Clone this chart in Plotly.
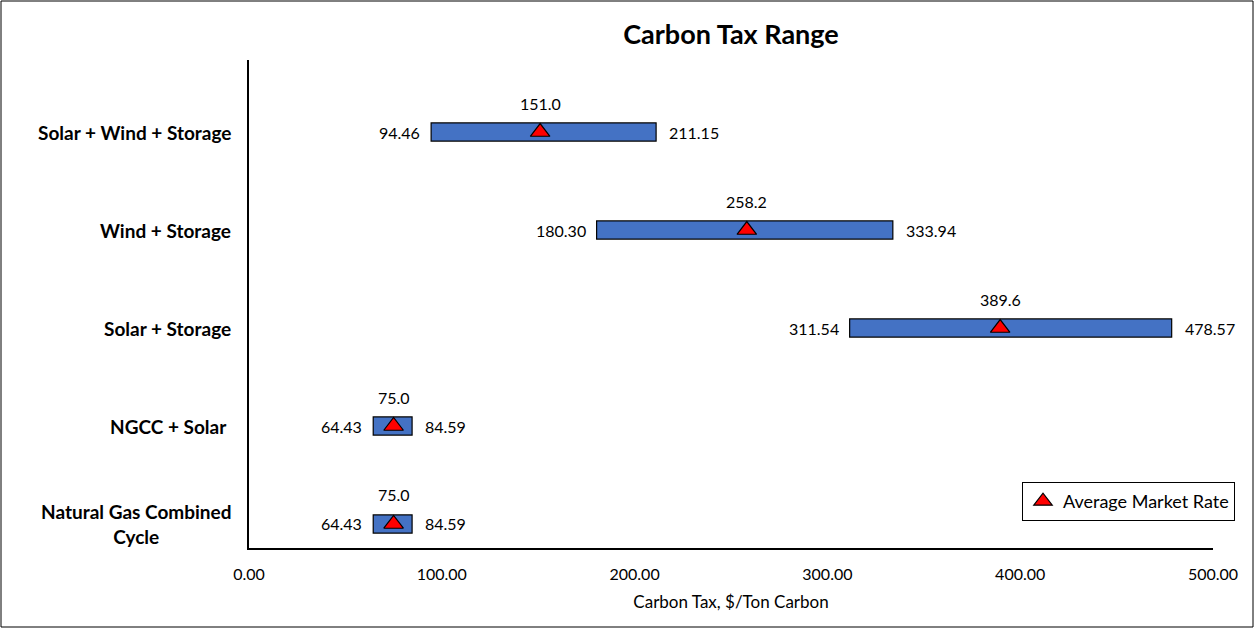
import plotly.graph_objects as go

categories = ["Natural Gas Combined<br>Cycle", "NGCC + Solar ", "Solar + Storage", "Wind + Storage", "Solar + Wind + Storage"]
min_vals = [64.43, 64.43, 311.54, 180.30, 94.46]
max_vals = [84.59, 84.59, 478.57, 333.94, 211.15]
avg_vals = [75.0, 75.0, 389.6, 258.2, 151.0]
x_ticks = [0, 100, 200, 300, 400, 500]

FONT = "Lato"
BAR_COLOR = "#4472C4"

fig = go.Figure()
idx = list(range(len(categories)))

fig.add_trace(go.Bar(
    y=idx, x=[mx - mn for mn, mx in zip(min_vals, max_vals)], base=min_vals,
    orientation="h", width=0.185,
    marker=dict(color=BAR_COLOR, line=dict(color="black", width=1.2)),
    showlegend=False, hoverinfo="skip",
))
fig.add_trace(go.Scatter(
    y=idx, x=avg_vals, mode="markers", name="Average Market Rate",
    marker=dict(symbol="triangle-up", size=17, color="red", line=dict(color="black", width=1.2)),
))

annotations = []
for i, mn, mx, av in zip(idx, min_vals, max_vals, avg_vals):
    annotations.append(dict(x=mn, y=i, text=f"{mn:.2f}", xanchor="right", yanchor="middle",
                            xshift=-9, showarrow=False, font=dict(size=16, color="black", family=FONT)))
    annotations.append(dict(x=mx, y=i, text=f"{mx:.2f}", xanchor="left", yanchor="middle",
                            xshift=11, showarrow=False, font=dict(size=16, color="black", family=FONT)))
    annotations.append(dict(x=av, y=i, text=f"{av:.1f}", xanchor="center", yanchor="middle",
                            yshift=29, showarrow=False, font=dict(size=16, color="black", family=FONT)))
for i, c in zip(idx, categories):
    annotations.append(dict(x=0, xref="paper", y=i, text=c, xanchor="right", yanchor="middle",
                            xshift=-16, align="center", showarrow=False,
                            font=dict(size=19, color="black", family=FONT, weight="bold")))

L, R, T, B = 249, 42, 60, 81
W, H = 1255, 629
pw, ph = W - L - R, H - T - B

fig.update_layout(
    width=W, height=H,
    margin=dict(l=L, r=R, t=T, b=B),
    paper_bgcolor="white", plot_bgcolor="white",
    font=dict(family=FONT, color="black"),
    title=dict(text="<b>Carbon Tax Range</b>", x=0.5, xref="paper", xanchor="center",
               y=1 - 35 / H, yanchor="middle", font=dict(size=27, family=FONT, color="black")),
    xaxis=dict(range=[0, 500], tickvals=x_ticks, ticktext=[f"{v:.2f}" for v in x_ticks],
               showgrid=False, zeroline=False, showline=True, linecolor="black", linewidth=1.5,
               ticks="", ticklabelstandoff=11, tickfont=dict(size=16, family=FONT, color="black"),
               title=dict(text="Carbon Tax, $/Ton Carbon", standoff=14, font=dict(size=17, family=FONT, color="black"))),
    yaxis=dict(range=[-0.245, 4.735], showticklabels=False, showgrid=False, zeroline=False,
               showline=True, linecolor="black", linewidth=1.5, ticks=""),
    legend=dict(x=(1022 - L) / pw, y=(548 - 482) / ph, xanchor="left", yanchor="top",
                bordercolor="black", borderwidth=1, bgcolor="white",
                font=dict(size=18, family=FONT, color="black"), entrywidth=197,
                tracegroupgap=0),
    annotations=annotations,
    shapes=[dict(type="rect", xref="paper", yref="paper",
                 x0=(1 - L) / pw, x1=(W - 2 - L) / pw,
                 y0=(ph + T - (H - 2)) / ph, y1=(ph + T - 1) / ph,
                 line=dict(color="black", width=1))],
)

fig.write_html("out.html", config={"displayModeBar": False},
               post_script="document.body.style.margin='0';document.body.style.overflow='hidden';")
